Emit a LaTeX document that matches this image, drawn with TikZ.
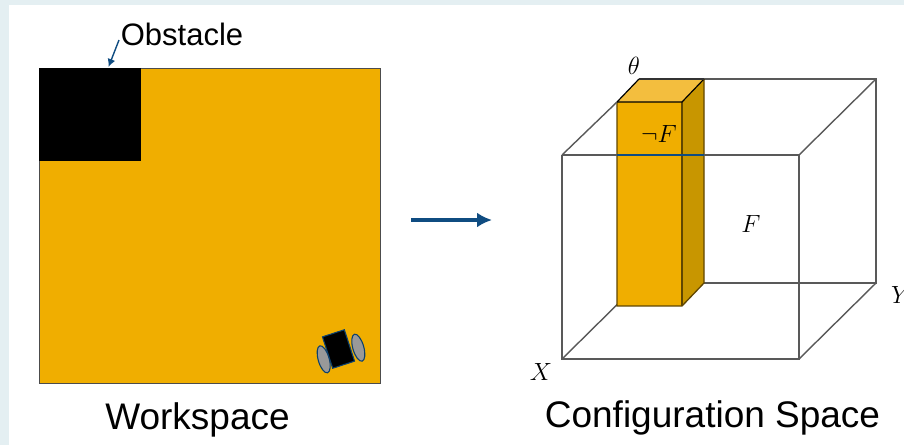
\documentclass[tikz,border=0pt]{standalone}
\usepackage{amsmath}
\usepackage{amssymb}
\usepackage{fontspec}
\setmainfont{Liberation Sans}
\usetikzlibrary{arrows.meta,positioning,shapes.geometric,calc}
\definecolor{wsorange}{HTML}{F0AE00}
\definecolor{sidedark}{HTML}{C89600}
\definecolor{toplight}{HTML}{F3BE3E}
\definecolor{deepblue}{HTML}{0F4C81}
\definecolor{panelblue}{HTML}{E4EFF2}

\begin{document}
\begin{tikzpicture}[
  x=1pt, y=-1pt,
  >=Latex,
  area/.style={rectangle, draw=black!70, line width=1pt, inner sep=0pt, outer sep=0pt, anchor=north west},
  wheel/.style={ellipse, draw=deepblue!85!black, fill=gray!80, line width=1.1pt, inner sep=0pt, minimum width=11pt, minimum height=28pt, rotate=16},
  edgeline/.style={draw=black!65, line width=1.4pt},
  title/.style={font=\fontsize{37}{40}\selectfont, inner sep=0pt},
  lab/.style={font=\fontsize{26}{30}\selectfont, inner sep=0pt}
]
  \useasboundingbox (0,0) rectangle (904,445);
  % backdrop
  \fill[white] (0,0) rectangle (904,445);
  \fill[panelblue] (0,0) rectangle (904,5);
  \fill[panelblue] (0,0) rectangle (9,445);

  % workspace
  \node[area, fill=wsorange, minimum width=341pt, minimum height=315pt] (space) at (39,68) {};
  \node[area, fill=black, draw=none, minimum width=102pt, minimum height=93pt] (obst) at (39,68) {};
  \node[wheel] (wheelL) at (323.7,359.3) {};
  \node[wheel] (wheelR) at (358.3,347.7) {};
  \node[rectangle, fill=black, draw=deepblue!85!black, line width=1.1pt, inner sep=0pt, minimum width=23pt, minimum height=33pt, rotate=18] (robot) at (338.5,349) {};
  \node[font=\fontsize{31}{34}\selectfont, inner sep=0pt] (obstlab) at (182,34) {Obstacle};
  \coordinate (obsttail) at (119,40);
  \coordinate (obsttip) at (108.5,67);
  \draw[-{Latex[length=8pt,width=8pt]}, deepblue, line width=1.4pt] (obsttail) -- (obsttip);
  \node[title] (wslab) at (197.5,420) {Workspace};

  % map arrow
  \coordinate (mapfrom) at (411,220);
  \coordinate (mapto) at (492,220);
  \draw[-{Latex[length=15pt,width=15pt]}, deepblue, line width=4pt] (mapfrom) -- (mapto);

  % cube corners
  \coordinate (fTL) at (562,155);
  \coordinate (fTR) at (799,155);
  \coordinate (fBL) at (562,359);
  \coordinate (fBR) at (799,359);
  \coordinate (bTL) at (639,79);
  \coordinate (bTR) at (876,79);
  \coordinate (bBL) at (639,283);
  \coordinate (bBR) at (876,283);
  \draw[edgeline] (bBL) -- (bBR) -- (bTR) -- (bTL);
  \draw[edgeline] (bTR) -- (fTR);
  \draw[edgeline] (bBR) -- (fBR);
  \draw[edgeline] (bBL) -- (fBL);

  % column
  \coordinate (cTL) at (617,102);
  \coordinate (cTR) at (682,102);
  \coordinate (cBL) at (617,306);
  \coordinate (cBR) at (682,306);
  \coordinate (dTL) at (639,79);
  \coordinate (dTR) at (704,79);
  \coordinate (dBR) at (704,283);
  \fill[wsorange] (cTL) rectangle (cBR);
  \fill[sidedark] (cTR) -- (dTR) -- (dBR) -- (cBR) -- cycle;
  \fill[toplight] (cTL) -- (dTL) -- (dTR) -- (cTR) -- cycle;
  \draw[black!60!wsorange, line width=1.3pt] (cTL) -- (cBL) -- (cBR) -- (dBR) -- (dTR);
  \draw[black!60!wsorange, line width=1.3pt] (cTR) -- (cBR);
  \draw[black, line width=1.2pt] (cTL) -- (cTR) -- (dTR);
  \draw[black, line width=1.2pt] (cTL) -- (dTL);

  % front face
  \draw[edgeline] (fTL) -- (fBL) -- (fBR) -- (fTR) -- (fTL);
  \draw[edgeline] (fTL) -- (cTL);
  \draw[black!80, line width=1.8pt] (dTL) -- (dTR);
  \coordinate (seamL) at (617,155);
  \coordinate (seamR) at (704,155);
  \draw[deepblue, line width=2pt] (seamL) -- (seamR);

  \node[lab] (thetalab) at (634,66) {$\theta$};
  \node[lab] (notF) at (659,134) {$\neg F$};
  \node[lab] (Flab) at (751,224) {$F$};
  \node[lab] (Xlab) at (541,372) {$X$};
  \node[lab] (Ylab) at (901,295) {$Y$};
  \node[title] (cslab) at (712.5,418) {Configuration Space};
\end{tikzpicture}
\end{document}
